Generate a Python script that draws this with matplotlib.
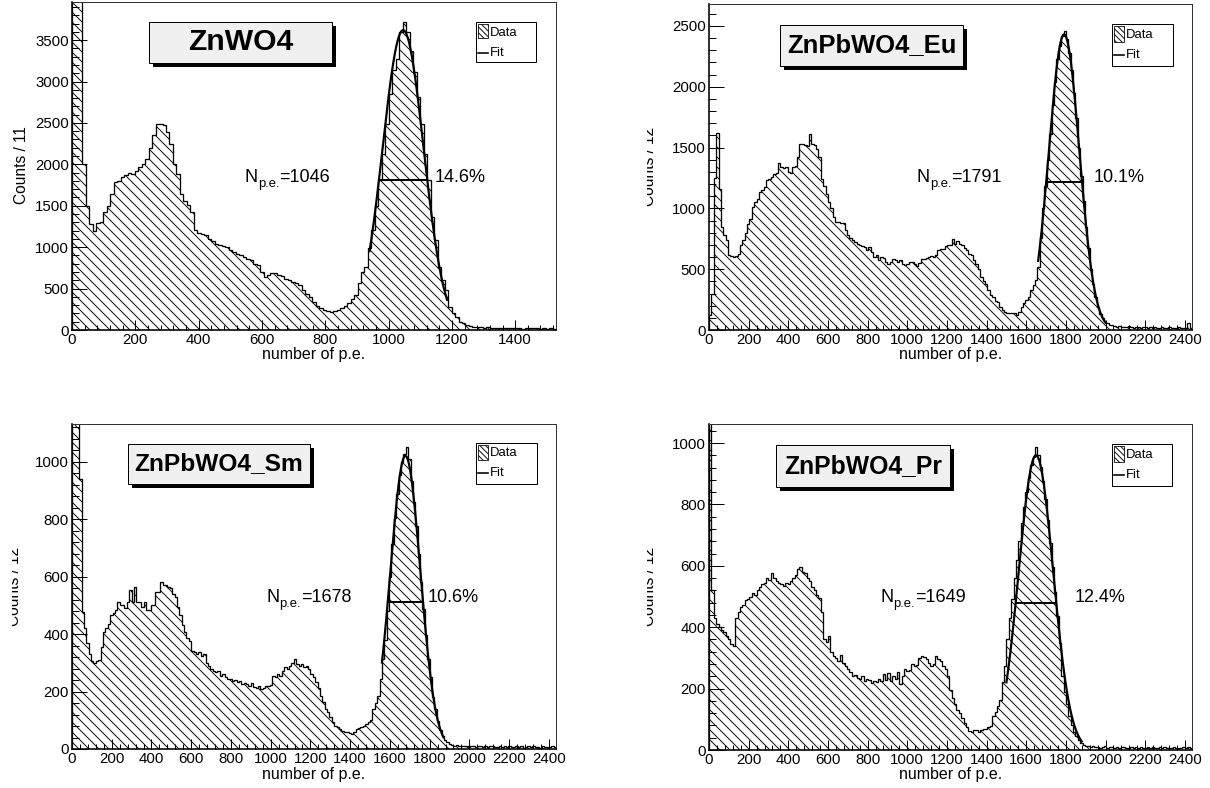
import numpy as np
import matplotlib
matplotlib.use("Agg")
import matplotlib.pyplot as plt
from matplotlib.patches import Rectangle
from matplotlib.ticker import MultipleLocator
from matplotlib.transforms import Bbox

W, H, DPI = 1210, 788, 120

plt.rcParams['font.family'] = ['Liberation Sans', 'DejaVu Sans']
plt.rcParams['hatch.linewidth'] = 0.55

# counts per bin, bins start at 0 (11 p.e. wide for ZnWO4, 12 for the others)
zn_counts = [9000, 9000, 9000, 2000, 1494, 1285, 1190, 1290, 1300, 1425,
             1500, 1646, 1787, 1800, 1847, 1870, 1895, 1887, 1916, 1968,
             2000, 2068, 2200, 2349, 2482, 2482, 2470, 2390, 2249, 2010,
             1887, 1639, 1560, 1506, 1426, 1205, 1173, 1160, 1145, 1104,
             1080, 1044, 1030, 1012, 1000, 964, 944, 920, 904, 883,
             860, 843, 800, 783, 703, 643, 660, 683, 687, 670,
             650, 620, 602, 580, 562, 542, 480, 430, 402, 340,
             290, 261, 240, 225, 221, 230, 241, 260, 290, 321,
             370, 422, 562, 700, 763, 984, 1205, 1500, 1807, 2128,
             2490, 2851, 3133, 3273, 3594, 3715, 3594, 3373, 3112, 2811,
             2490, 2128, 1807, 1365, 1084, 763, 600, 482, 281, 200,
             161, 100, 80, 60, 50, 42, 38, 35, 30, 32,
             28, 25, 30, 22, 26, 24, 20, 25, 22, 18,
             24, 20, 19, 22, 17, 20, 18, 21, 16]

eu_counts = [120, 300, 1250, 1620, 1160, 850, 780, 740, 615, 610,
             600, 605, 628, 697, 738, 800, 874, 915, 1011, 1050,
             1079, 1134, 1150, 1175, 1230, 1245, 1260, 1284, 1290, 1374,
             1339, 1330, 1339, 1298, 1290, 1339, 1350, 1421, 1530, 1530,
             1520, 1515, 1612, 1530, 1520, 1489, 1421, 1240, 1180, 1120,
             1052, 1000, 929, 888, 885, 880, 878, 820, 778, 760,
             738, 720, 710, 697, 690, 683, 656, 683, 642, 601,
             615, 574, 601, 590, 560, 546, 560, 587, 574, 560,
             574, 540, 533, 545, 560, 555, 546, 530, 550, 587,
             580, 595, 601, 605, 601, 620, 656, 669, 665, 690,
             697, 700, 751, 710, 735, 710, 697, 670, 656, 628,
             620, 574, 540, 505, 437, 400, 382, 328, 290, 273,
             240, 232, 190, 164, 145, 142, 140, 143, 138, 123,
             150, 191, 219, 245, 273, 328, 370, 410, 519, 760,
             1000, 1180, 1400, 1610, 1850, 2040, 2225, 2335, 2420, 2460,
             2390, 2280, 2140, 1945, 1740, 1500, 1270, 1060, 850, 670,
             500, 380, 270, 190, 130, 100, 70, 55, 45, 40,
             35, 28, 30, 25, 27, 22, 30, 24, 20, 26,
             22, 18, 25, 21, 19, 23, 17, 22, 20, 16,
             24, 19, 18, 21, 15, 20, 18, 22, 17, 19,
             16, 60, 20]

sm_counts = [3000, 3000, 3000, 940, 478, 420, 370, 330, 307, 300,
             305, 310, 354, 406, 420, 435, 465, 472, 483, 512,
             500, 501, 490, 512, 553, 512, 565, 512, 512, 495,
             512, 483, 483, 501, 501, 547, 547, 582, 570, 570,
             565, 559, 541, 530, 495, 465, 430, 406, 388, 377,
             342, 336, 330, 336, 325, 330, 301, 290, 278, 272,
             268, 270, 255, 260, 249, 243, 245, 238, 240, 232,
             235, 226, 230, 226, 220, 230, 215, 212, 218, 209,
             212, 220, 218, 222, 255, 249, 261, 255, 272, 284,
             278, 290, 300, 313, 295, 290, 296, 285, 290, 278,
             262, 249, 232, 214, 185, 165, 139, 128, 112, 93,
             81, 75, 70, 64, 60, 58, 55, 52, 60, 70,
             72, 75, 80, 87, 93, 100, 139, 160, 185, 243,
             313, 380, 480, 600, 712, 805, 887, 952, 998, 1028,
             1051, 1010, 932, 861, 775, 680, 582, 486, 395, 313,
             250, 180, 139, 96, 65, 46, 30, 23, 18, 15,
             12, 14, 10, 12, 9, 11, 8, 12, 10, 7,
             9, 11, 8, 10, 6, 9, 12, 7, 8, 10,
             6, 9, 7, 11, 8, 6, 10, 7, 9, 5,
             8, 10, 6, 9, 7, 8, 5, 9, 7, 6,
             8, 10, 7]

pr_counts = [2000, 520, 430, 410, 400, 390, 384, 370, 360, 345,
             340, 430, 449, 465, 471, 488, 493, 500, 510, 505,
             520, 530, 540, 545, 560, 555, 575, 560, 550, 545,
             540, 535, 545, 540, 550, 560, 570, 590, 596, 580,
             575, 560, 550, 530, 520, 505, 495, 449, 362, 351,
             373, 318, 305, 300, 290, 310, 285, 274, 263, 255,
             241, 245, 236, 232, 241, 225, 230, 228, 219, 225,
             221, 230, 225, 248, 227, 250, 225, 241, 230, 255,
             214, 240, 263, 258, 262, 280, 274, 276, 301, 307,
             303, 295, 285, 274, 280, 307, 295, 290, 274, 265,
             241, 197, 170, 150, 131, 120, 105, 88, 75, 62,
             60, 66, 64, 60, 66, 68, 70, 74, 77, 110,
             125, 142, 164, 220, 274, 362, 430, 493, 560, 620,
             680, 740, 790, 840, 885, 927, 955, 987, 960, 921,
             877, 819, 750, 674, 595, 514, 436, 350, 240, 190,
             150, 110, 80, 60, 44, 32, 22, 16, 14, 12,
             10, 12, 9, 11, 8, 10, 12, 7, 9, 11,
             8, 10, 6, 9, 11, 7, 8, 10, 6, 9,
             7, 11, 8, 6, 10, 7, 9, 5, 8, 10,
             6, 9, 7, 8, 5, 9, 7, 6, 8, 10,
             7, 9, 6]

all_counts = [zn_counts, eu_counts, sm_counts, pr_counts]
names = ['ZnWO4', 'ZnPbWO4_Eu', 'ZnPbWO4_Sm', 'ZnPbWO4_Pr']
bin_width = [11, 12, 12, 12]
ylabels = ['Counts / 11', 'Counts / 12', 'Counts / 12', 'Counts / 12']
n_pe = [1046, 1791, 1678, 1649]
resolution = [14.6, 10.1, 10.6, 12.4]      # FWHM / mean in %
fit_amp = [3620, 2430, 1020, 960]
fit_range = [(940, 1185), (1660, 2000), (1560, 1870), (1500, 1880)]
x_max = [1529, 2436, 2436, 2436]
y_max = [3960, 2680, 1131, 1062]
y_step = [500, 500, 200, 200]

# layout in canvas pixels (left, top, right, bottom)
frame_px = [(72, 2, 556, 330), (709, 4, 1192, 330),
            (72, 424, 556, 749), (709, 424, 1192, 750)]
title_px = [(149, 22, 332, 63), (780, 25, 963, 66),
            (128, 444, 310, 484), (776, 445, 950, 487)]
title_em = [30, 25.7, 24.5, 24.7]
legend_px = [(476, 22, 536, 62), (1112, 24, 1173, 66),
             (476, 443, 537, 484), (1112, 444, 1172, 486)]
npe_px = [(245, 181.5), (917, 182), (266, 601.5), (880, 602)]
res_px = [(435, 181.5), (1094, 182), (428, 601.5), (1075, 602)]
ylab_px = [(22, 165, None), (650, 166, 647), (14.5, 586, 12), (650, 586, 647)]


def pt(px):
    return px * 72.0 / DPI


def fx(x):
    return x / W


def fy(y):
    return 1 - y / H


fig = plt.figure(figsize=(W / DPI, H / DPI), dpi=DPI)
fig.patch.set_facecolor('white')
renderer = fig.canvas.get_renderer()


def box(L, T, R, B, **kw):
    r = Rectangle((fx(L), fy(B)), (R - L) / W, (B - T) / H,
                  transform=fig.transFigure, **kw)
    fig.add_artist(r)
    return r


def text_run(x, y, parts):
    # draw consecutive pieces of text; each part is (string, size_px, drop_px)
    for s, size, drop in parts:
        t = fig.text(fx(x), fy(y + drop), s, ha='left', va='baseline',
                     fontsize=pt(size))
        x += t.get_window_extent(renderer).width


for i in range(4):
    L, T, R, B = frame_px[i]
    ax = fig.add_axes([fx(L), fy(B), (R - L) / W, (B - T) / H])
    counts = np.array(all_counts[i], dtype=float)
    edges = np.arange(len(counts) + 1) * bin_width[i]

    # hatched histogram with step outline
    ax.stairs(counts, edges, fill=True, facecolor='white', edgecolor='black',
              hatch='\\' * 4, linewidth=0)
    ax.stairs(counts, edges, color='black', linewidth=pt(1.3))

    # gaussian fit and its FWHM marker
    mean = n_pe[i]
    fwhm = resolution[i] / 100.0 * mean
    sigma = fwhm / 2.3548
    xs = np.linspace(fit_range[i][0], fit_range[i][1], 400)
    ax.plot(xs, fit_amp[i] * np.exp(-0.5 * ((xs - mean) / sigma) ** 2),
            color='black', linewidth=pt(2.2))
    ax.plot([mean - fwhm / 2, mean + fwhm / 2], [fit_amp[i] / 2] * 2,
            color='black', linewidth=pt(2))

    ax.set_xlim(0, x_max[i])
    ax.set_ylim(0, y_max[i])
    ax.xaxis.set_major_locator(MultipleLocator(200))
    ax.xaxis.set_minor_locator(MultipleLocator(40))
    ax.yaxis.set_major_locator(MultipleLocator(y_step[i]))
    ax.yaxis.set_minor_locator(MultipleLocator(y_step[i] / 5))
    ax.tick_params(which='both', direction='in', top=False, right=False,
                   width=pt(1), colors='black')
    ax.tick_params(axis='y', which='major', length=pt(14.5), pad=pt(3),
                   labelsize=pt(15))
    ax.tick_params(axis='y', which='minor', length=pt(7))
    ax.tick_params(axis='x', which='major', length=pt(10), pad=pt(3),
                   labelsize=pt(15))
    ax.tick_params(axis='x', which='minor', length=pt(5))
    for side in ['left', 'bottom']:
        ax.spines[side].set_linewidth(pt(1.6))
    for side in ['top', 'right']:
        ax.spines[side].set_linewidth(pt(1))
        ax.spines[side].set_color('#333333')

    fig.text(fx((L + R) / 2), fy(B + 25), 'number of p.e.', ha='center',
             va='center', fontsize=pt(16))

    cx, cy, clip = ylab_px[i]
    t = fig.text(fx(cx), fy(cy), ylabels[i], rotation=90, ha='center',
                 va='center', fontsize=pt(15.5))
    if clip is not None:
        t.set_clip_box(Bbox.from_extents(clip, 0, W, H))
        t.set_clip_on(True)

    # peak position and resolution
    nx, ny = npe_px[i]
    text_run(nx, ny, [('N', 18, 0), ('p.e.', 13, 5), ('=%d' % n_pe[i], 18, 0)])
    rx, ry = res_px[i]
    fig.text(fx(rx), fy(ry), '%.1f%%' % resolution[i], ha='left',
             va='baseline', fontsize=pt(18))

    # title pave with shadow
    tL, tT, tR, tB = title_px[i]
    box(tL + 4, tT + 4, tR + 4, tB + 4, facecolor='black', edgecolor='none',
        zorder=5)
    box(tL, tT, tR, tB, facecolor='#f0f0f0', edgecolor='black',
        linewidth=pt(1), zorder=6)
    fig.text(fx((tL + tR) / 2), fy((tT + tB) / 2), names[i], ha='center',
             va='center', fontsize=pt(title_em[i]), fontweight='bold',
             zorder=7)

    # legend
    gL, gT, gR, gB = legend_px[i]
    box(gL, gT, gR, gB, facecolor='white', edgecolor='black',
        linewidth=pt(1), zorder=5)
    box(gL + 1.5, gT + 2, gL + 12, gB - 24, facecolor='white',
        edgecolor='black', hatch='\\' * 7, linewidth=pt(0.8), zorder=6)
    fig.text(fx(gL + 14), fy(gT + 10.5), 'Data', ha='left', va='center',
             fontsize=pt(13), zorder=7)
    fig.add_artist(plt.Line2D([fx(gL + 2), fx(gL + 12)],
                              [fy(gT + 30.5)] * 2, transform=fig.transFigure,
                              color='black', linewidth=pt(1.6), zorder=7))
    fig.text(fx(gL + 14), fy(gT + 30.5), 'Fit', ha='left', va='center',
             fontsize=pt(13), zorder=7)

fig.savefig('out.png', dpi=DPI)
